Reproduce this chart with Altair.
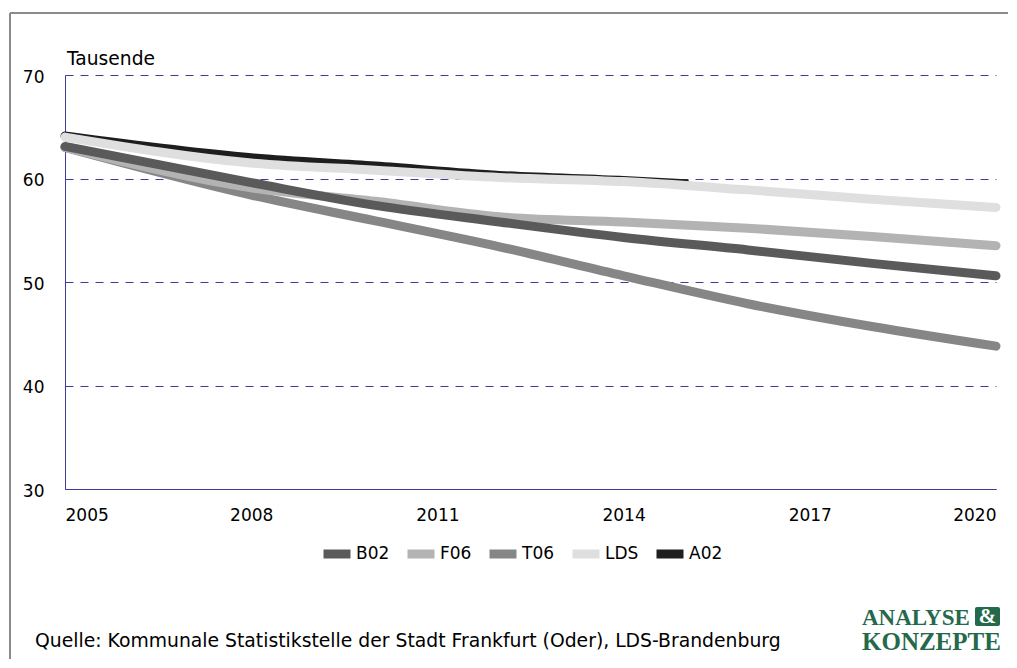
import altair as alt
import pandas as pd

# ---- data ----
years = [2005, 2008, 2010, 2012, 2014, 2016, 2018, 2020]
b02 = [63.1, 59.6, 57.4, 55.8, 54.3, 53.1, 51.8, 50.6]
f06 = [63.0, 59.1, 57.8, 56.3, 55.8, 55.2, 54.4, 53.5]
t06 = [63.0, 58.4, 55.9, 53.4, 50.6, 47.9, 45.7, 43.8]
lds = [64.0, 61.5, 60.8, 60.1, 59.7, 58.9, 58.0, 57.2]
a02_years = [2005, 2008, 2010, 2012, 2014, 2015]
a02 = [64.1, 62.0, 61.2, 60.3, 59.8, 59.5]

series_order = ["B02", "F06", "T06", "LDS", "A02"]
series_colors = ["#5a5a5a", "#b3b3b3", "#868686", "#dfdfdf", "#1e1e1e"]
draw_order = ["A02", "T06", "F06", "B02", "LDS"]

y_ticks = [30, 40, 50, 60, 70]
x_ticks = [2005, 2008, 2011, 2014, 2017, 2020]

unit_label = "Tausende"
source_text = "Quelle: Kommunale Statistikstelle der Stadt Frankfurt (Oder), LDS-Brandenburg"

rows = []
for name, ys, vs in [("B02", years, b02), ("F06", years, f06), ("T06", years, t06),
                     ("LDS", years, lds), ("A02", a02_years, a02)]:
    for y, v in zip(ys, vs):
        rows.append({"Jahr": y, "Wert": v, "Serie": name})
df = pd.DataFrame(rows)

FONT = "DejaVu Sans"
NAVY = "#3d3d99"
W, H = 931, 414

color = alt.Color(
    "Serie:N",
    scale=alt.Scale(domain=series_order, range=series_colors),
    legend=alt.Legend(
        title=None, orient="none", direction="horizontal",
        legendX=254, legendY=461,
        symbolType="stroke", symbolSize=729, symbolStrokeWidth=9,
        labelFont=FONT, labelFontSize=17, labelColor="#000000",
        labelOffset=1, columnPadding=-1,
    ),
)

x_enc = alt.X("Jahr:Q", scale=alt.Scale(domain=[2005, 2020], nice=False, zero=False),
              axis=alt.Axis(values=x_ticks, format="d", title=None, grid=False, ticks=False,
                            domainColor=NAVY, labelPadding=18))
y_enc = alt.Y("Wert:Q", scale=alt.Scale(domain=[30, 70], nice=False, zero=False),
              axis=alt.Axis(values=y_ticks, title=None, grid=True, gridDash=[8, 7],
                            gridColor=NAVY, gridWidth=1, ticks=False, domainColor=NAVY,
                            labelPadding=21, labelOffset=2))

line_layers = []
for name in draw_order:
    line_layers.append(
        alt.Chart(df).transform_filter(alt.datum.Serie == name)
        .mark_line(strokeWidth=9, strokeCap="round", strokeJoin="round", interpolate="monotone")
        .encode(x=x_enc, y=y_enc, color=color, detail="Serie:N")
    )

one = pd.DataFrame({"k": [0]})

frame_top = alt.Chart(one).mark_rule(color="#8a8a8a", strokeWidth=2).encode(
    x=alt.value(-55), x2=alt.value(2000), y=alt.value(-62))
frame_left = alt.Chart(one).mark_rule(color="#8a8a8a", strokeWidth=2).encode(
    x=alt.value(-55), y=alt.value(-62), y2=alt.value(2000))

tausende = alt.Chart(one).mark_text(text=unit_label, font=FONT, fontSize=18.7, align="left",
                                    baseline="alphabetic", color="#000000").encode(
    x=alt.value(2), y=alt.value(-10))

source = alt.Chart(one).mark_text(text=source_text, font=FONT, fontSize=18.8, align="left",
                                  baseline="alphabetic", color="#000000").encode(
    x=alt.value(-30), y=alt.value(572))

GREEN = "#24694a"
logo1 = alt.Chart(one).mark_text(text="ANALYSE", font="Liberation Serif", fontWeight="bold",
                                 fontSize=23, align="left", baseline="alphabetic",
                                 color=GREEN).encode(x=alt.value(797), y=alt.value(550))
logo2 = alt.Chart(one).mark_text(text="KONZEPTE", font="Liberation Serif", fontWeight="bold",
                                 fontSize=25, align="left", baseline="alphabetic",
                                 color=GREEN).encode(x=alt.value(797), y=alt.value(575))
logo_box = alt.Chart(one).mark_rect(fill=GREEN, cornerRadius=2).encode(
    x=alt.value(910), x2=alt.value(935), y=alt.value(532), y2=alt.value(551))
logo_amp = alt.Chart(one).mark_text(text="&", font="Liberation Serif", fontWeight="bold",
                                    fontSize=21, align="center", baseline="alphabetic",
                                    color="#ffffff").encode(x=alt.value(922.5), y=alt.value(548))

chart = alt.layer(frame_top, frame_left, *line_layers, tausende, source,
                  logo1, logo2, logo_box, logo_amp).properties(
    width=W, height=H,
    autosize=alt.AutoSizeParams(type="none"),
    padding={"left": 57, "top": 67, "right": 12, "bottom": 170},
    background="#ffffff",
).configure_view(stroke=None).configure_axis(
    labelFont=FONT, labelFontSize=17, labelColor="#000000", domainWidth=1
)

chart.save("out.html", embed_options={"renderer": "svg", "actions": False})
